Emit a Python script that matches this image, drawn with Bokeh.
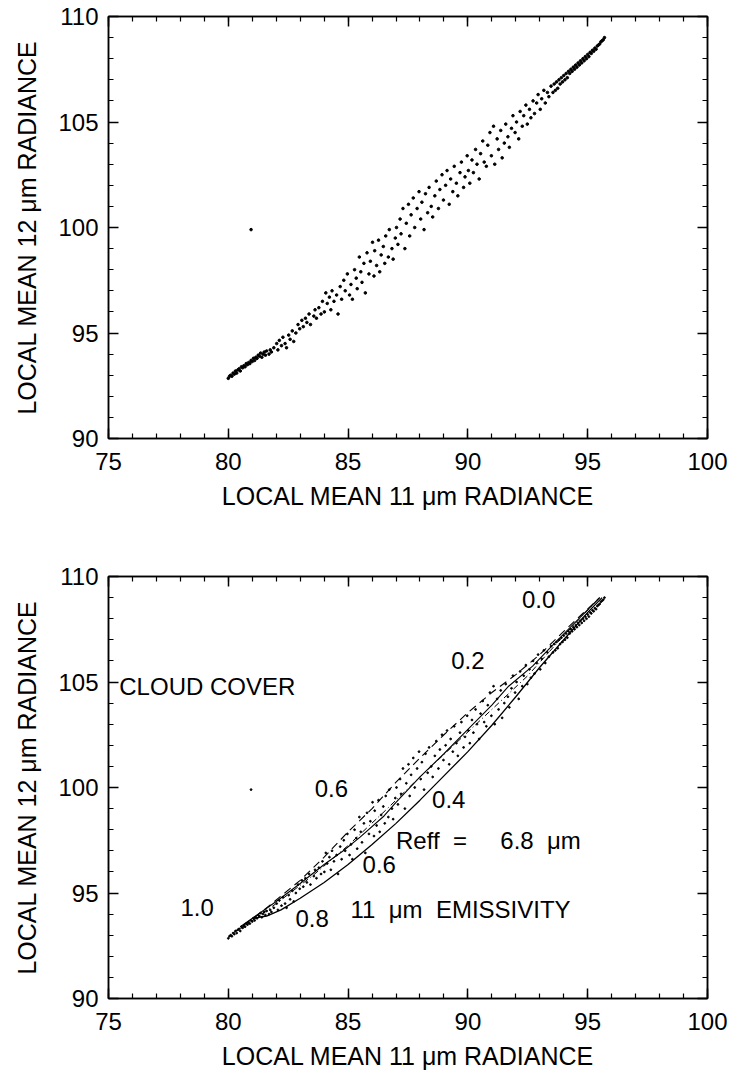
from bokeh.plotting import figure
from bokeh.layouts import column
from bokeh.models import LinearAxis, SingleIntervalTicker, CustomJSTickFormatter, ColumnDataSource
from bokeh.core.properties import value
from bokeh.embed import file_html
from bokeh.resources import INLINE

FONT = "Liberation Sans"
NB = "\u00a0"

# ---------------- data ----------------
scatter_x = [
    80.0, 80.05, 80.1, 80.15, 80.2, 80.25, 80.3, 80.35, 80.4, 80.45, 80.5, 80.55, 80.6, 80.65, 80.7, 80.75,
    80.8, 80.85, 80.9, 80.95, 81.0, 81.05, 81.1, 81.15, 81.2, 81.25, 81.3, 81.35, 81.4, 81.45, 81.5, 81.55,
    81.6, 81.7, 81.75, 81.8, 81.9,
    82.02, 82.07, 82.13, 82.22, 82.28, 82.37, 82.43, 82.52, 82.58, 82.67, 82.73, 82.82, 82.91, 82.98, 83.07, 83.13,
    83.22, 83.28, 83.37, 83.43, 83.57, 83.62, 83.68, 83.78, 83.87, 83.93, 84.01,
    84.07, 84.13, 84.22, 84.28, 84.33, 84.41, 84.52, 84.58, 84.67, 84.73, 84.82, 84.88, 84.97, 85.06, 85.12, 85.18,
    85.27, 85.34, 85.38, 85.47, 85.53, 85.58, 85.66, 85.72, 85.79, 85.87, 85.93, 86.02, 86.08, 86.11, 86.19, 86.27,
    86.32, 86.38, 86.47, 86.53, 86.57, 86.68, 86.72, 86.83, 86.88, 86.97,
    87.02, 87.08, 87.17, 87.21, 87.29, 87.37, 87.43, 87.52, 87.57, 87.63, 87.72, 87.78, 87.88, 87.96, 88.03, 88.08,
    88.17, 88.23, 88.32, 88.38, 88.47, 88.53, 88.62, 88.68, 88.77, 88.83, 88.92, 88.98, 89.07, 89.13, 89.22, 89.28,
    89.37, 89.43, 89.52, 89.58, 89.67, 89.73, 89.82, 89.88, 89.97, 90.02, 90.08, 90.17, 90.23, 90.32, 90.38, 90.47,
    90.53, 90.62, 90.68, 90.77, 90.83, 90.92, 90.98, 91.07, 91.12, 91.22, 91.28, 91.37, 91.43, 91.52,
    91.58, 91.67, 91.73, 91.82, 91.88, 91.97, 92.03, 92.12, 92.18, 92.27, 92.33, 92.42, 92.48, 92.57, 92.63, 92.72,
    92.78, 92.87, 92.93, 93.02, 93.08, 93.17, 93.23, 93.32, 93.38, 93.47,
    93.55, 93.6, 93.65, 93.7, 93.75, 93.8, 93.85, 93.9, 93.95, 94.0, 94.05, 94.1, 94.15, 94.2, 94.25, 94.3,
    94.35, 94.4, 94.45, 94.5, 94.55, 94.6, 94.65, 94.7, 94.75, 94.8, 94.85, 94.9, 94.95, 95.0, 95.05, 95.1,
    95.15, 95.2, 95.25, 95.3, 95.35, 95.4, 95.45, 95.5, 95.55, 95.6, 95.65, 95.7,
    80.95,
]
scatter_y = [
    92.85, 92.95, 93.0, 92.95, 93.1, 93.05, 93.2, 93.1, 93.25, 93.3, 93.2, 93.4, 93.35, 93.45, 93.4, 93.55,
    93.5, 93.6, 93.55, 93.7, 93.65, 93.8, 93.7, 93.85, 93.8, 93.95, 93.9, 94.05, 93.85, 94.0, 94.1, 93.95,
    94.15, 94.0, 94.2, 94.1, 94.3,
    94.5, 94.2, 94.65, 94.4, 94.8, 94.5, 94.3, 94.9, 94.7, 95.1, 94.6, 95.0, 95.4, 95.2, 95.6, 95.3,
    95.7, 95.5, 95.9, 95.4, 95.8, 96.1, 95.7, 96.2, 95.9, 96.5, 96.0,
    96.9, 96.4, 96.7, 96.1, 97.0, 96.5, 96.8, 95.9, 97.2, 96.6, 97.5, 97.0, 97.8, 96.8, 97.3, 96.6,
    98.0, 97.6, 97.1, 98.6, 97.9, 97.4, 98.3, 96.9, 98.8, 97.8, 98.4, 99.3, 97.7, 98.9, 98.2, 99.4,
    97.9, 98.7, 99.1, 98.3, 99.6, 98.6, 99.9, 99.0, 98.5, 99.5,
    100.0, 99.2, 100.4, 99.7, 100.9, 99.0, 100.2, 101.1, 99.6, 100.6, 101.4, 100.0, 100.9, 101.7, 100.4, 101.2,
    99.9, 101.6, 100.7, 101.9, 101.0, 100.5, 101.5, 102.2, 100.9, 101.8, 102.5, 101.3, 102.0, 102.7, 101.1, 102.3,
    101.7, 102.9, 102.1, 101.5, 102.6, 103.1, 101.9, 102.4, 103.4, 102.7, 102.1, 103.2, 102.6, 103.7, 103.0, 102.3,
    103.5, 104.1, 103.1, 102.9, 103.9, 104.5, 103.4, 104.8, 103.0, 104.2, 103.7, 104.6, 103.3, 104.0,
    104.9, 104.3, 103.8, 104.7, 105.3, 104.5, 105.0, 104.2, 105.5, 104.8, 105.3, 105.8, 104.9, 105.6, 105.2, 106.0,
    105.4, 105.9, 106.3, 105.6, 106.1, 106.5, 105.9, 106.4, 106.2, 106.7,
    106.4, 106.8, 106.5, 106.9, 106.6, 107.0, 106.8, 107.1, 106.9, 107.2, 107.0, 107.3, 107.1, 107.4, 107.3, 107.5,
    107.4, 107.6, 107.5, 107.7, 107.6, 107.8, 107.7, 107.9, 107.8, 108.0, 107.9, 108.1, 108.0, 108.2, 108.1, 108.3,
    108.25, 108.4, 108.35, 108.5, 108.45, 108.6, 108.65, 108.7, 108.8, 108.85, 108.9, 109.0,
    99.9,
]

# model curves (bottom panel)
curve_solid_low_x = [81.0, 81.6, 82.2, 83.0, 84.0, 85.0, 86.0, 87.0, 88.0, 89.0, 90.0, 91.0, 92.0, 93.0, 94.0, 95.0, 95.6]
curve_solid_low_y = [93.8, 93.9, 94.2, 94.75, 95.5, 96.35, 97.3, 98.3, 99.4, 100.55, 101.7, 102.95, 104.3, 105.7, 107.0, 108.3, 109.0]
curve_solid_up_x = [80.5, 82.0, 83.0, 84.0, 84.8, 85.5, 86.5, 87.0, 88.0, 89.0, 90.0, 91.0, 91.7, 92.7, 93.5, 95.5]
curve_solid_up_y = [93.4, 94.6, 95.45, 96.35, 97.0, 97.65, 98.65, 99.3, 100.5, 101.6, 102.75, 103.9, 104.8, 105.75, 106.7, 109.0]
curve_dash_x = [80.2, 81.5, 83.0, 84.0, 85.0, 86.0, 87.0, 88.0, 89.0, 90.0, 91.0, 92.0, 93.0, 94.0, 95.5]
curve_dash_y = [93.1, 94.2, 95.6, 96.7, 97.9, 99.0, 100.25, 101.4, 102.5, 103.55, 104.5, 105.35, 106.3, 107.4, 109.0]
curve_dashdot_x = [80.5, 82.0, 83.5, 85.0, 86.5, 88.0, 89.5, 91.0, 92.5, 94.0, 95.5]
curve_dashdot_y = [93.3, 94.5, 95.8, 97.25, 98.85, 100.5, 102.1, 103.7, 105.3, 107.2, 109.0]

ann_x = [92.95, 90.0, 75.45, 84.3, 89.2, 87.0, 86.3, 78.7, 83.5, 85.1]
ann_y = [108.9, 106.0, 104.8, 99.95, 99.45, 97.5, 96.35, 94.3, 93.8, 94.2]
ann_text = ["0.0", "0.2", "CLOUD COVER", "0.6", "0.4",
            "Reff" + NB * 2 + "=" + NB * 5 + "6.8" + NB * 2 + "\u03bcm",
            "0.6", "1.0", "0.8",
            "11" + NB * 2 + "\u03bcm" + NB * 2 + "EMISSIVITY"]
ann_align = ["center", "center", "left", "center", "center", "left", "center", "center", "center", "left"]

x_title = "LOCAL MEAN 11 \u03bcm RADIANCE"
y_title = "LOCAL MEAN 12 \u03bcm RADIANCE"


def make_fig(height, border_top, border_bottom):
    p = figure(width=735, height=height, x_range=(75, 100), y_range=(90, 110),
               output_backend="svg", toolbar_location=None,
               x_axis_location=None, y_axis_location=None,
               min_border_left=108, min_border_right=28, min_border_top=border_top,
               min_border_bottom=border_bottom)
    p.grid.visible = False
    p.outline_line_color = "black"
    p.outline_line_width = 1.5
    p.background_fill_color = "white"
    p.border_fill_color = "white"

    def style(ax, labels=True):
        ax.major_tick_in = 10
        ax.major_tick_out = 0
        ax.minor_tick_in = 5
        ax.minor_tick_out = 0
        ax.axis_line_color = "black"
        ax.axis_line_width = 1.5
        ax.major_tick_line_width = 1.5
        ax.minor_tick_line_width = 1.2
        ax.major_label_text_font = FONT
        ax.major_label_text_font_size = "24px"
        ax.major_label_text_color = "black"
        ax.axis_label_text_font = FONT
        ax.axis_label_text_font_size = "25px"
        ax.axis_label_text_font_style = "normal"
        ax.axis_label_text_color = "black"
        if not labels:
            ax.formatter = CustomJSTickFormatter(code="return '';")
            ax.major_label_standoff = 0

    xb = LinearAxis(ticker=SingleIntervalTicker(interval=5, num_minor_ticks=5), axis_label=x_title)
    style(xb)
    xb.major_label_standoff = 14
    xb.axis_label_standoff = 9
    p.add_layout(xb, "below")
    yl = LinearAxis(ticker=SingleIntervalTicker(interval=5, num_minor_ticks=5), axis_label=y_title)
    style(yl)
    yl.major_label_standoff = 10
    yl.axis_label_standoff = 14
    p.add_layout(yl, "left")
    xa = LinearAxis(ticker=SingleIntervalTicker(interval=5, num_minor_ticks=5))
    style(xa, labels=False)
    p.add_layout(xa, "above")
    yr = LinearAxis(ticker=SingleIntervalTicker(interval=5, num_minor_ticks=5))
    style(yr, labels=False)
    p.add_layout(yr, "right")
    return p


src = ColumnDataSource(data=dict(x=scatter_x, y=scatter_y))

top = make_fig(562, 16, 124)
top.scatter("x", "y", source=src, size=2.6, color="black", marker="circle")

bot = make_fig(512, 14, 76)
bot.scatter("x", "y", source=src, size=1.8, color="black", marker="circle")
bot.line(curve_solid_low_x, curve_solid_low_y, line_color="black", line_width=1.3)
bot.line(curve_solid_up_x, curve_solid_up_y, line_color="black", line_width=1.1)
bot.line(curve_dash_x, curve_dash_y, line_color="black", line_width=1.1, line_dash="8 5")
bot.line(curve_dashdot_x, curve_dashdot_y, line_color="black", line_width=1.0, line_dash="6 3 1 3")

ann = ColumnDataSource(data=dict(x=ann_x, y=ann_y, text=ann_text, align=ann_align))
bot.text("x", "y", text="text", source=ann, text_align="align", text_baseline="middle",
         text_font=value(FONT), text_font_size="24px", text_color="black")

layout = column(top, bot, spacing=0)
open("out.html", "w").write(file_html(layout, INLINE))
